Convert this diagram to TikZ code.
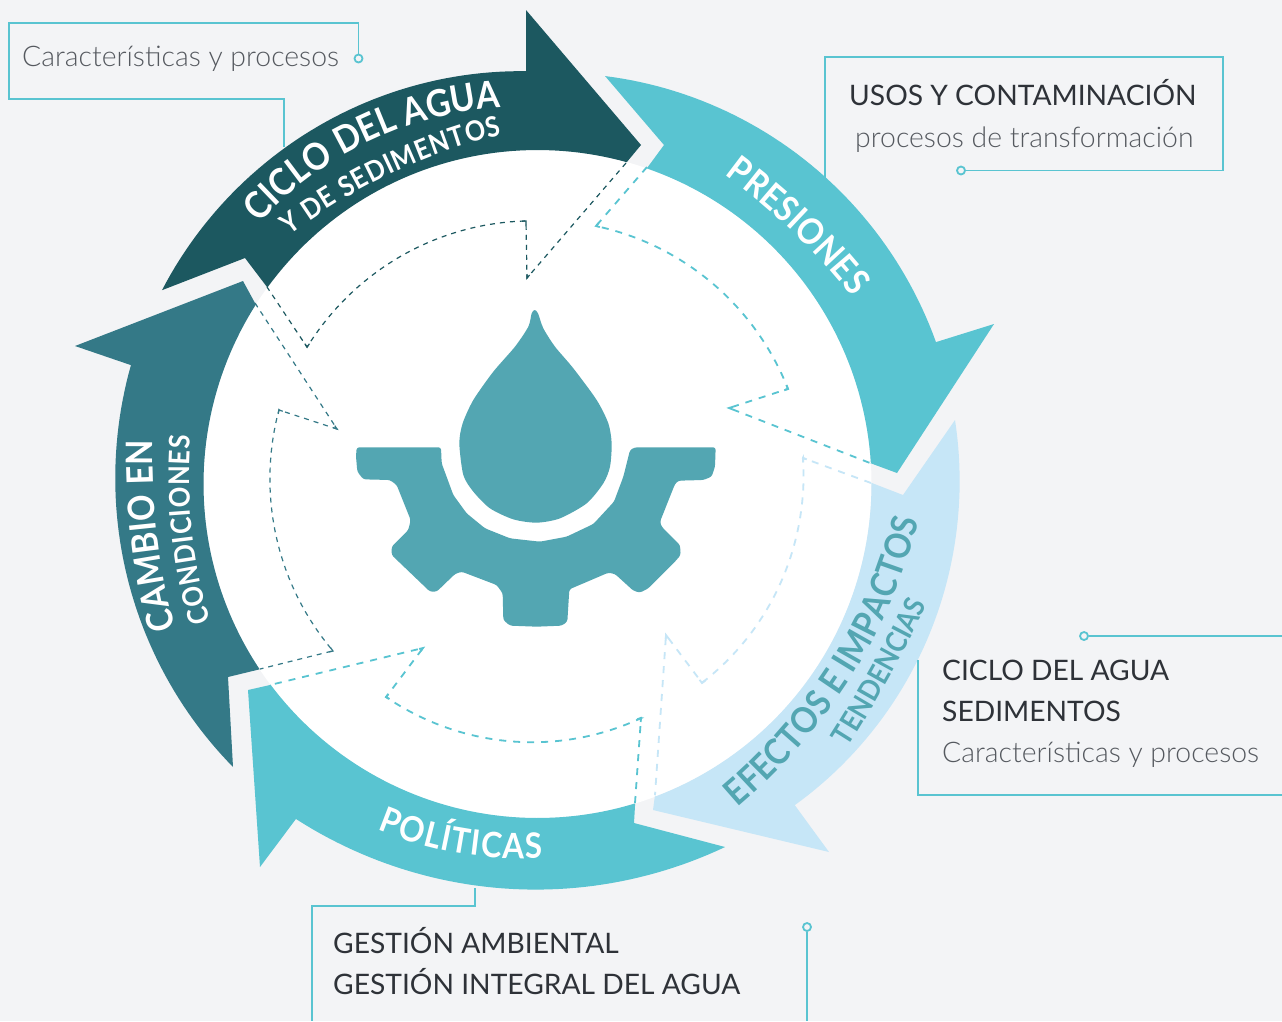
\documentclass[tikz,border=0pt]{standalone}
\usepackage{fontspec}
\setmainfont{Lato}
\newfontfamily\ltf{Lato Light}
\newfontfamily\sbf[FakeStretch=0.9]{Lato Bold}
\usetikzlibrary{decorations.text,calc}
\definecolor{bgc}{HTML}{F3F4F6}
\definecolor{cicloc}{HTML}{1C5860}
\definecolor{cambioc}{HTML}{347987}
\definecolor{tealc}{HTML}{59C4D1}
\definecolor{paleC}{HTML}{C6E6F7}
\definecolor{iconc}{HTML}{53A6B2}
\definecolor{inkc}{HTML}{2E3238}
\definecolor{grayc}{HTML}{55595F}
\tikzset{
 rim/.style n args={5}{insert path={-- plot[domain=#1:#2,samples=50,variable=\t]
  ({537.5+(#3+(#4-#3)*(\t-#1)/(#2-#1)+4*#5*(\t-#1)/(#2-#1)*(1-(\t-#1)/(#2-#1)))*cos(\t)},
   {484+(#3+(#4-#3)*(\t-#1)/(#2-#1)+4*#5*(\t-#1)/(#2-#1)*(1-(\t-#1)/(#2-#1)))*sin(\t)})}},
 boxline/.style={draw=tealc,line width=1.8pt},
 dot/.style={circle,draw=tealc,line width=1.8pt,fill=bgc,minimum size=8pt,inner sep=0pt},
 dshdark/.style={line width=1.2pt,dash pattern=on 5pt off 5pt},
 dshlight/.style={line width=1.8pt,dash pattern=on 7pt off 7pt},
 big/.style={anchor=base west,font=\fontsize{28.2}{28.2}\selectfont,text=inkc,inner sep=0pt},
 thin/.style={anchor=base west,font=\fontsize{28.4}{28.4}\ltf\selectfont,text=grayc,inner sep=0pt},
}
% start angle, end angle, radius at start, radius at end, bow, text, format
\newcommand{\arctext}[7]{\path[decorate,decoration={text along path,text align={fit to path},text={|#7|#6}}]
  plot[domain=#1:#2,samples=40,variable=\t]
  ({537.5+(#3+(#4-#3)*(\t-#1)/(#2-#1)+4*#5*(\t-#1)/(#2-#1)*(1-(\t-#1)/(#2-#1)))*cos(\t)},
   {484+(#3+(#4-#3)*(\t-#1)/(#2-#1)+4*#5*(\t-#1)/(#2-#1)*(1-(\t-#1)/(#2-#1)))*sin(\t)});}
% corner(colour, line width, before, corner, after)
\newcommand{\vtx}[5]{\draw[#1,line width=#2pt,miter limit=8] ($(#4)!4pt!(#3)$) -- (#4) -- ($(#4)!4pt!(#5)$);}
\begin{document}
\begin{tikzpicture}[x=1pt,y=-1pt]
\useasboundingbox (0,0) rectangle (1282,1021);
\fill[bgc] (0,0) rectangle (1282,1021);
\coordinate (ctr) at (537.5,484);
\fill[white] (ctr) circle[radius=334pt];
% arrows
\fill[cicloc] (641,145) -- (526,10) -- (526,71) [rim={268.4}{207.3}{413}{422.6}{2}] -- (245,258) -- (267,287) [rim={216.1}{285.5}{334}{334}{0}] -- cycle;
\fill[tealc] (605,76) [rim={279.4}{340.4}{413.5}{423}{2}] -- (994,324) -- (897,473) -- (870,463) [rim={356.4}{289.1}{334}{334}{0}] -- (664,145) -- cycle;
\fill[paleC] (955,420) [rim={-8.7}{51.3}{422.4}{411.5}{2.7}] -- (829,852) -- (653,810) -- (655,795) [rim={69.3}{-0.2}{334}{334}{0}] -- (903,495) -- cycle;
\fill[tealc] (725,847) [rim={62.7}{125.8}{408.6}{413}{-5}] -- (260,867) -- (248,690) -- (270,685) [rim={143.1}{73}{334}{334}{0}] -- (634,823) -- cycle;
\fill[cambioc] (75,346) -- (243,281) -- (255,303) [rim={212.6}{146.3}{334}{334}{0}] -- (228,677) -- (233,767) [rim={137.1}{196.3}{415.7}{423.6}{1}] -- cycle;
% dashed spiral
\draw[dshdark,draw=cicloc] (626,163) -- (527,278) -- (526,221) [rim={267.5}{210.7}{263.3}{268}{0}] -- (267,287);
\draw[dshdark,draw=cambioc] (255,303) -- (337,429) -- (279,410) [rim={196}{140.8}{269}{264}{0}] -- (260,669);
\draw[dshlight,draw=tealc] (647,167) -- (596,226) [rim={282.8}{339.2}{264.5}{268}{0}] -- (729,408) -- (870,463);
\draw[dshlight,draw=paleC] (871,483) -- (803,458) [rim={-5.6}{50.4}{266.8}{258}{0}] -- (666,635) -- (655,795);
\draw[dshlight,draw=tealc] (635,803) -- (641,718) [rim={66.1}{125.4}{256}{261.4}{0}] -- (423,648) -- (270,685);
% sharp corners of the dashed lines
\vtx{cicloc}{1.2}{626,163}{527,278}{526,221}
\vtx{cicloc}{1.2}{527,278}{526,221}{505,222}
\vtx{cicloc}{1.2}{320,330}{307,347}{267,287}
\vtx{cambioc}{1.2}{255,303}{337,429}{279,410}
\vtx{cambioc}{1.2}{337,429}{279,410}{275,430}
\vtx{cambioc}{1.2}{325,640}{333,651}{260,669}
\vtx{tealc}{1.8}{647,167}{596,226}{620,233}
\vtx{tealc}{1.8}{780,370}{788,389}{729,408}
\vtx{tealc}{1.8}{788,389}{729,408}{870,463}
\vtx{paleC}{1.8}{871,483}{803,458}{803,480}
\vtx{paleC}{1.8}{720,670}{702,683}{666,635}
\vtx{paleC}{1.8}{702,683}{666,635}{655,795}
\vtx{tealc}{1.8}{635,803}{641,718}{620,725}
\vtx{tealc}{1.8}{405,708}{386,697}{423,648}
\vtx{tealc}{1.8}{386,697}{423,648}{270,685}
% icon
\begin{scope}[shift={(340,300)},xscale=0.33333,yscale=0.33333]
\fill[iconc] plot[smooth cycle,tension=0.45] coordinates {(575,40) (584,30) (594,40) (610,85) (645,140) (700,205) (770,300) (805,370) (815,430) (810,500) (790,550) (740,610) (660,655) (590,668) (520,658) (450,625) (400,575) (370,525) (358,430) (368,370) (400,300) (460,215) (525,140) (565,80)};
\fill[iconc,rounded corners=2.5pt] (50,442) -- (303,442) -- (305,490) -- (340,585) -- (380,640) -- (435,685) -- (510,715) -- (600,725) -- (680,710) -- (760,672) -- (822,605) -- (850,530) -- (870,450) -- (885,442) -- (1127,442) -- (1125,500) -- (1115,530) -- (1090,540) -- (1015,542) -- (1005,552) -- (960,665) -- (965,680) -- (1020,735) -- (1022,765) -- (1005,785) -- (925,865) -- (900,878) -- (880,872) -- (825,822) -- (805,818) -- (688,868) -- (682,965) -- (665,977) -- (590,980) -- (510,977) -- (490,960) -- (488,880) -- (470,855) -- (365,815) -- (345,822) -- (290,875) -- (270,875) -- (155,765) -- (155,740) -- (205,690) -- (212,660) -- (170,555) -- (150,540) -- (70,538) -- (52,515) -- (48,470) -- cycle;
\end{scope}
% callouts
\node[dot] (d1) at (358.5,58.5) {};
\coordinate (j1) at (284,147);
\draw[boxline] (d1) -- (358.5,23) -- (9,23) -- (9,99) -- (284,99) -- (j1);
\node[thin] (t1) at (22,66.5) {Características y procesos};
\node[dot] (d2) at (961,170.5) {};
\coordinate (j2) at (825,178);
\draw[boxline] (j2) -- (825,57) -- (1223,57) -- (1223,170.5) -- (d2);
\node[big] (t2a) at (849,105) {USOS Y CONTAMINACIÓN};
\node[thin] (t2b) at (855,147) {procesos de transformación};
\node[dot] (d3) at (1084,636) {};
\coordinate (j3) at (918,660);
\coordinate (e3a) at (1282,636);
\coordinate (e3b) at (1282,795);
\draw[boxline] (d3) -- (e3a);
\draw[boxline] (e3b) -- (918,795) -- (j3);
\node[big] (t3a) at (942,680) {CICLO DEL AGUA};
\node[big] (t3b) at (942,721) {SEDIMENTOS};
\node[thin] (t3c) at (942,762) {Características y procesos};
\coordinate (j4) at (475,888);
\coordinate (e4a) at (312,1021);
\draw[boxline] (j4) -- (475,906) -- (312,906) -- (e4a);
\node[dot] (d4) at (807,927) {};
\coordinate (e4b) at (807,1021);
\draw[boxline] (d4) -- (e4b);
\node[big] (t4a) at (333,953) {GESTIÓN AMBIENTAL};
\node[big] (t4b) at (333,994) {GESTIÓN INTEGRAL DEL AGUA};
% curved labels
\arctext{223.1}{264.3}{381}{378}{2}{CICLO DEL AGUA}{\fontsize{37.5}{37.5}\sbf\selectfont\color{white}}
\arctext{225.1}{264.2}{351}{351}{-8}{Y DE SEDIMENTOS}{\fontsize{28}{28}\sbf\selectfont\color{white}}
\arctext{301.2}{329.3}{361.4}{366}{-5}{PRESIONES}{\fontsize{36}{36}\sbf\selectfont\color{white}}
\arctext{58.2}{5.4}{380}{383}{-13}{EFECTOS E IMPACTOS}{\fontsize{36}{36}\sbf\selectfont\color{iconc}}
\arctext{40.3}{17.3}{407}{408}{-6}{TENDENCIAS}{\fontsize{29}{29}\sbf\selectfont\color{iconc}}
\arctext{114.9}{89.2}{381}{374}{0}{POLÍTICAS}{\fontsize{35}{35}\sbf\selectfont\color{white}}
\arctext{158.3}{186.5}{390}{387}{-5}{CAMBIO EN}{\fontsize{36.5}{36.5}\sbf\selectfont\color{white}}
\arctext{157.2}{188}{355}{350}{-4}{CONDICIONES}{\fontsize{28.5}{28.5}\sbf\selectfont\color{white}}
\end{tikzpicture}
\end{document}
